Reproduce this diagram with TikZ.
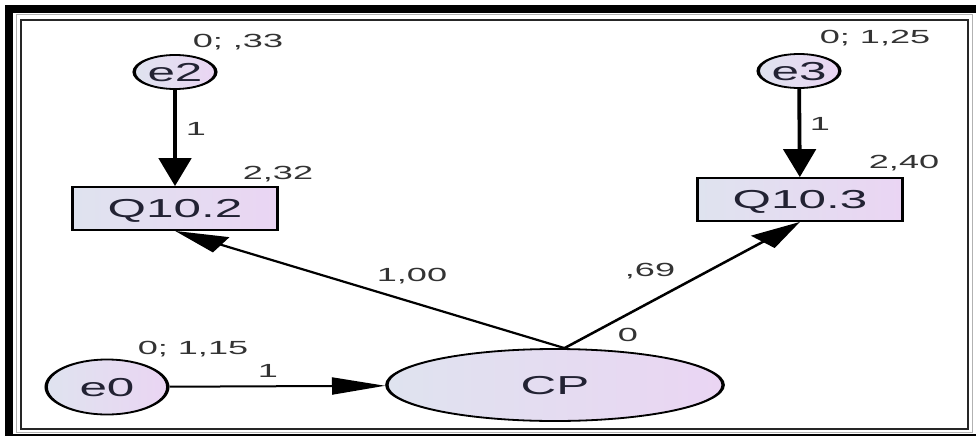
\documentclass[tikz,border=0pt]{standalone}
\usepackage{fontspec}
\setmainfont{Liberation Sans}
\usetikzlibrary{arrows.meta,shapes.geometric}
\definecolor{fillL}{HTML}{DFE3EF}
\definecolor{fillR}{HTML}{EAD5F3}
\definecolor{lab}{HTML}{333333}
\definecolor{ntext}{HTML}{222233}
\begin{document}
\begin{tikzpicture}
\useasboundingbox (0,0) rectangle (976pt,-436pt);
\fill[white] (0,0) rectangle (976pt,-436pt);
% frame
\fill[black] (5pt,-5pt) rectangle (976pt,-13pt);
\fill[black] (5pt,-5pt) rectangle (13pt,-436pt);
\fill[black] (5pt,-434pt) rectangle (976pt,-436pt);
\draw[gray!60, line width=1pt] (16pt,-15pt) rectangle (972pt,-432pt);
\draw[black!85, line width=1.6pt] (21pt,-20pt) rectangle (968pt,-429pt);
\begin{scope}[x=0.526316pt, y=-1pt, transform canvas={xscale=1.9},
  shade/.style={left color=fillL, right color=fillR},
  obs/.style={draw, shade, rectangle, line width=1.8pt, minimum width=108pt, minimum height=43pt,
    inner sep=0pt, text=ntext, font=\fontsize{26}{30}\selectfont, text height=18.7pt, text depth=0pt},
  lat/.style={draw, shade, ellipse, line width=1.8pt, inner sep=0pt, text=ntext,
    font=\fontsize{26}{30}\selectfont, text height=18.7pt, text depth=0pt},
  err/.style={lat, minimum width=43pt, minimum height=34pt},
  arr/.style={-{Triangle[length=28pt,width=17pt]}, line width=2pt},
  lbl/.style={inner sep=0pt, text=lab, font=\fontsize{19}{22}\selectfont, text height=13.7pt, text depth=0pt}]
  % nodes
  \node[err] (e2) at (175,72) {e2};
  \node[err] (e3) at (799,71) {e3};
  \node[obs] (q2) at (175,208.5) {Q10.2};
  \node[obs] (q3) at (800,199.5) {Q10.3};
  \node[lat, minimum width=64pt, minimum height=55pt] (e0) at (107,387) {e0};
  \node[lat, minimum width=177pt, minimum height=72pt] (cp) at (555,385) {CP};
  % connectors
  \draw[arr] (e2) -- (q2);
  \draw[arr] (e3) -- (q3);
  \draw[arr] (e0) -- (cp);
  \draw[arr] ([xshift=5pt]cp.north) -- (q2.south);
  \draw[arr] ([xshift=5pt]cp.north) -- (q3.south);
  % labels
  \node[lbl] (l1) at (238,41) {0; ,33};
  \node[lbl] (l2) at (196,129) {1};
  \node[lbl] (l3) at (278,173) {2,32};
  \node[lbl] (l4) at (875,37) {0; 1,25};
  \node[lbl] (l5) at (820,124) {1};
  \node[lbl] (l6) at (904,162) {2,40};
  \node[lbl] (l7) at (412,275) {1,00};
  \node[lbl] (l8) at (650,270) {,69};
  \node[lbl] (l9) at (628,335) {0};
  \node[lbl] (l10) at (193,348) {0; 1,15};
  \node[lbl] (l11) at (268,371) {1};
\end{scope}
\end{tikzpicture}
\end{document}
